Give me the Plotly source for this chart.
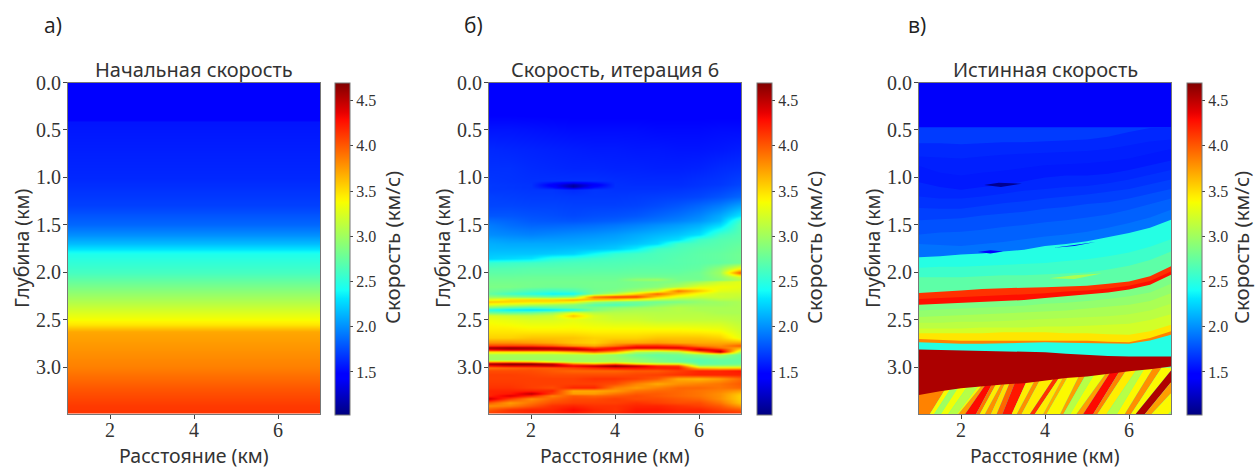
import plotly.graph_objects as go
from plotly.colors import sample_colorscale

VMIN, VMAX = 1.03, 4.70
BOTTOM = 3.49
PANEL_TITLES = ["Начальная скорость", "Скорость, итерация 6", "Истинная скорость"]
PANEL_LETTERS = ["а)", "б)", "в)"]
X_LABEL = "Расстояние (км)"
Y_LABEL = "Глубина (км)"
CB_LABEL = "Скорость (км/с)"
X_TICKS = [2, 4, 6]
Y_TICKS = [0.0, 0.5, 1.0, 1.5, 2.0, 2.5, 3.0]
CB_TICKS = [1.5, 2.0, 2.5, 3.0, 3.5, 4.0, 4.5]

JET = [[0, "rgb(0,0,128)"], [0.11, "rgb(0,0,255)"], [0.125, "rgb(0,0,255)"],
       [0.34, "rgb(0,219,255)"], [0.35, "rgb(0,229,255)"], [0.375, "rgb(20,255,247)"],
       [0.64, "rgb(247,255,0)"], [0.65, "rgb(255,245,0)"], [0.66, "rgb(255,237,0)"],
       [0.89, "rgb(255,10,0)"], [0.91, "rgb(232,0,0)"], [1, "rgb(128,0,0)"]]

# Panel a: initial velocity, one depth profile
INIT_X = [1, 7]
INIT_DEPTH = [0.0, 0.39, 0.41, 1.0, 1.3, 1.5, 1.6, 1.7, 1.76, 1.8, 2.0, 2.3, 2.5, 2.55,
              2.62, 3.0, 3.2, 3.4, 3.49]
INIT_V = [1.45, 1.45, 1.56, 1.63, 1.72, 1.86, 2.00, 2.17, 2.33, 2.45, 2.62, 3.06, 3.38,
          3.48, 3.71, 3.86, 4.00, 4.12, 4.14]

# Panel b: velocity at iteration 6, depth rows against 13 stations
STATIONS = [1, 1.5, 2, 2.5, 3, 3.5, 4, 4.5, 5, 5.5, 6, 6.5, 7]
ITER_DEPTH = [0.00, 0.30, 0.50, 0.70, 0.90, 1.03, 1.07, 1.10, 1.13, 1.20, 1.30, 1.40, 1.45,
              1.50, 1.60, 1.65, 1.70, 1.75, 1.80, 1.85, 1.90, 1.96, 2.00, 2.04, 2.07, 2.10,
              2.15, 2.19, 2.22, 2.25, 2.28, 2.31, 2.34, 2.37, 2.39, 2.42, 2.45, 2.50, 2.60,
              2.68, 2.74, 2.77, 2.79, 2.81, 2.83, 2.86, 2.92, 2.94, 2.96, 2.98, 3.00, 3.03,
              3.07, 3.12, 3.17, 3.21, 3.24, 3.27, 3.30, 3.33, 3.37, 3.40, 3.44, 3.49]
ITER_V = [
    [1.44, 1.44, 1.44, 1.44, 1.44, 1.44, 1.44, 1.44, 1.44, 1.44, 1.44, 1.44, 1.44],
    [1.47, 1.47, 1.47, 1.47, 1.47, 1.47, 1.47, 1.47, 1.47, 1.47, 1.47, 1.47, 1.47],
    [1.56, 1.56, 1.55, 1.54, 1.53, 1.53, 1.53, 1.53, 1.52, 1.52, 1.52, 1.53, 1.53],
    [1.63, 1.62, 1.61, 1.60, 1.59, 1.58, 1.58, 1.57, 1.57, 1.56, 1.56, 1.57, 1.59],
    [1.66, 1.66, 1.64, 1.63, 1.62, 1.62, 1.61, 1.61, 1.60, 1.60, 1.61, 1.64, 1.66],
    [1.68, 1.67, 1.66, 1.66, 1.66, 1.66, 1.65, 1.64, 1.64, 1.64, 1.66, 1.68, 1.72],
    [1.69, 1.68, 1.67, 1.45, 1.15, 1.42, 1.66, 1.65, 1.65, 1.65, 1.67, 1.69, 1.74],
    [1.69, 1.68, 1.67, 1.50, 1.12, 1.50, 1.66, 1.66, 1.66, 1.66, 1.68, 1.71, 1.76],
    [1.69, 1.69, 1.68, 1.68, 1.64, 1.68, 1.67, 1.67, 1.67, 1.68, 1.70, 1.73, 1.79],
    [1.72, 1.71, 1.70, 1.70, 1.69, 1.69, 1.69, 1.70, 1.71, 1.72, 1.74, 1.79, 1.86],
    [1.74, 1.74, 1.73, 1.73, 1.72, 1.72, 1.72, 1.73, 1.76, 1.80, 1.86, 1.94, 2.08],
    [1.80, 1.80, 1.78, 1.77, 1.75, 1.77, 1.78, 1.80, 1.85, 1.90, 1.97, 2.10, 2.32],
    [1.88, 1.85, 1.81, 1.80, 1.79, 1.81, 1.83, 1.87, 1.91, 1.96, 2.03, 2.16, 2.60],
    [1.93, 1.88, 1.85, 1.85, 1.86, 1.88, 1.91, 1.95, 2.00, 2.05, 2.12, 2.27, 2.68],
    [2.00, 1.98, 1.96, 1.98, 2.00, 2.02, 2.05, 2.10, 2.15, 2.20, 2.30, 2.60, 2.70],
    [2.08, 2.05, 2.04, 2.05, 2.06, 2.08, 2.10, 2.15, 2.22, 2.30, 2.60, 2.68, 2.72],
    [2.12, 2.10, 2.10, 2.10, 2.10, 2.12, 2.15, 2.20, 2.28, 2.60, 2.65, 2.70, 2.75],
    [2.15, 2.15, 2.15, 2.15, 2.17, 2.18, 2.22, 2.35, 2.60, 2.65, 2.70, 2.72, 2.78],
    [2.20, 2.20, 2.20, 2.22, 2.25, 2.40, 2.55, 2.60, 2.65, 2.68, 2.72, 2.75, 2.80],
    [2.25, 2.28, 2.32, 2.50, 2.55, 2.60, 2.62, 2.64, 2.66, 2.70, 2.72, 2.75, 2.80],
    [2.55, 2.58, 2.60, 2.62, 2.64, 2.65, 2.66, 2.67, 2.68, 2.70, 2.72, 2.74, 2.80],
    [2.68, 2.68, 2.70, 2.70, 2.70, 2.70, 2.70, 2.72, 2.72, 2.72, 2.75, 2.95, 3.40],
    [2.72, 2.72, 2.73, 2.73, 2.73, 2.74, 2.74, 2.75, 2.75, 2.75, 2.80, 3.00, 4.05],
    [2.77, 2.77, 2.78, 2.78, 2.78, 2.78, 2.78, 2.80, 2.80, 2.80, 2.80, 2.95, 3.25],
    [2.80, 2.80, 2.80, 2.80, 2.80, 2.80, 2.80, 2.95, 3.00, 2.82, 2.82, 2.90, 3.10],
    [2.82, 2.82, 2.82, 2.82, 2.82, 2.82, 2.82, 2.84, 2.86, 2.88, 3.00, 3.20, 3.30],
    [2.85, 2.85, 2.82, 2.80, 2.80, 2.82, 2.82, 2.85, 2.90, 3.05, 3.30, 3.35, 3.30],
    [2.80, 2.75, 2.65, 2.60, 2.65, 2.80, 2.85, 3.00, 3.20, 3.90, 3.60, 3.30, 3.25],
    [2.75, 2.60, 2.50, 2.38, 2.40, 2.85, 3.10, 3.50, 3.95, 3.60, 3.35, 3.20, 3.20],
    [2.95, 2.90, 2.85, 2.80, 2.90, 3.90, 4.10, 4.10, 3.60, 3.30, 3.20, 3.20, 3.15],
    [3.30, 3.50, 3.55, 3.55, 3.70, 3.60, 3.50, 3.30, 3.10, 3.00, 3.00, 3.10, 3.10],
    [3.60, 3.55, 3.50, 3.50, 3.40, 3.00, 2.85, 2.80, 2.80, 2.85, 2.95, 3.00, 3.05],
    [3.30, 3.20, 3.10, 3.00, 2.90, 2.70, 2.65, 2.75, 2.90, 3.00, 3.00, 3.00, 3.05],
    [2.85, 2.70, 2.60, 2.70, 2.80, 2.85, 2.95, 3.00, 3.05, 3.10, 3.05, 3.05, 3.05],
    [2.45, 2.35, 2.30, 2.35, 2.45, 2.85, 3.00, 3.05, 3.05, 3.10, 3.05, 3.05, 3.05],
    [2.80, 2.75, 2.80, 2.95, 3.30, 3.10, 3.10, 3.10, 3.10, 3.10, 3.10, 3.05, 3.05],
    [3.25, 3.20, 3.15, 3.20, 3.60, 3.25, 3.15, 3.15, 3.12, 3.12, 3.12, 3.10, 3.08],
    [3.35, 3.30, 3.25, 3.25, 3.30, 3.25, 3.20, 3.20, 3.15, 3.15, 3.15, 3.15, 3.10],
    [3.45, 3.45, 3.42, 3.42, 3.42, 3.40, 3.40, 3.40, 3.40, 3.40, 3.38, 3.35, 3.20],
    [3.55, 3.55, 3.60, 3.60, 3.60, 3.55, 3.55, 3.55, 3.60, 3.60, 3.60, 3.55, 3.30],
    [3.80, 3.80, 3.75, 3.70, 3.60, 3.55, 3.70, 3.70, 3.75, 3.70, 3.70, 3.70, 3.70],
    [4.10, 4.10, 4.10, 4.00, 3.80, 3.70, 3.90, 4.20, 4.20, 4.10, 3.85, 3.80, 4.00],
    [4.60, 4.65, 4.60, 4.55, 4.40, 4.10, 4.30, 4.40, 4.40, 4.40, 4.20, 3.90, 3.70],
    [4.30, 4.40, 4.40, 4.40, 4.50, 4.40, 4.20, 3.70, 3.70, 3.90, 4.50, 4.30, 3.40],
    [3.50, 3.50, 3.50, 3.50, 3.70, 4.00, 3.70, 3.10, 3.00, 3.10, 3.80, 4.55, 3.00],
    [3.05, 3.05, 3.05, 3.05, 3.05, 3.05, 2.95, 2.80, 2.75, 2.80, 2.90, 3.00, 2.75],
    [3.00, 3.00, 3.00, 3.00, 3.00, 3.00, 3.00, 2.95, 2.85, 2.75, 2.70, 2.75, 2.75],
    [3.70, 3.70, 3.60, 3.30, 3.10, 3.05, 3.10, 3.00, 2.90, 2.80, 2.70, 2.75, 2.75],
    [4.60, 4.70, 4.70, 4.50, 3.90, 3.70, 3.90, 3.50, 3.30, 3.30, 2.75, 2.75, 2.80],
    [4.30, 4.40, 4.40, 4.50, 4.35, 4.50, 4.70, 4.50, 4.20, 4.10, 3.00, 3.00, 3.00],
    [3.90, 3.95, 4.00, 4.00, 4.10, 4.20, 4.30, 4.30, 4.25, 4.25, 3.60, 3.50, 3.50],
    [4.05, 4.05, 4.05, 4.00, 3.95, 3.95, 3.95, 4.00, 4.00, 4.10, 4.20, 4.20, 4.25],
    [4.10, 4.10, 4.08, 4.05, 4.05, 4.05, 4.05, 4.08, 4.10, 4.15, 4.20, 4.20, 4.20],
    [4.10, 4.10, 4.10, 4.10, 4.10, 4.15, 4.15, 4.10, 4.00, 3.70, 3.65, 3.75, 3.95],
    [4.12, 4.12, 4.10, 4.10, 4.10, 4.10, 4.05, 3.85, 3.70, 3.80, 3.85, 3.90, 4.00],
    [4.15, 4.15, 4.10, 4.05, 4.20, 4.20, 3.85, 3.75, 3.85, 3.95, 3.95, 3.90, 3.95],
    [4.20, 4.20, 4.20, 4.20, 3.70, 3.70, 3.75, 3.90, 3.95, 3.95, 3.90, 3.85, 3.75],
    [4.20, 4.25, 4.50, 4.10, 3.75, 3.75, 3.90, 4.00, 4.00, 3.95, 3.90, 3.80, 3.60],
    [4.20, 4.40, 4.20, 3.85, 4.00, 3.95, 4.00, 4.05, 4.00, 3.95, 3.90, 3.80, 3.55],
    [4.45, 4.10, 3.80, 3.95, 4.05, 4.05, 4.10, 4.05, 4.05, 4.00, 3.95, 3.80, 3.55],
    [4.00, 3.75, 3.90, 4.05, 4.10, 4.10, 4.10, 4.15, 4.10, 4.05, 4.05, 3.90, 3.60],
    [3.80, 3.85, 4.00, 4.15, 4.20, 4.15, 4.15, 4.20, 4.20, 4.15, 4.10, 4.00, 3.75],
    [4.00, 4.15, 4.20, 4.20, 4.30, 4.20, 4.15, 4.25, 4.25, 4.20, 4.20, 4.10, 4.00],
    [4.15, 4.15, 4.20, 4.20, 4.20, 4.15, 4.20, 4.25, 4.20, 4.20, 4.20, 4.20, 4.20],
]

# Panel c: true model, layer velocity and the depth of its top at each station
TRUE_BACKGROUND = 1.42
TRUE_LAYER_V = [1.70, 1.63, 1.60, 1.58, 1.63, 1.67, 1.72, 1.78, 1.84, 1.90,
                2.48, 2.58, 2.72, 4.15, 4.28, 2.85, 2.95, 3.05, 3.12, 3.22, 3.48, 3.85, 2.48, 2.80]
TRUE_LAYER_TOPS = [
    [0.47, 0.47, 0.47, 0.47, 0.47, 0.47, 0.47, 0.47, 0.47, 0.47, 0.47, 0.47, 0.47],
    [0.64, 0.64, 0.65, 0.64, 0.63, 0.63, 0.62, 0.61, 0.60, 0.57, 0.52, 0.48, 0.47],
    [0.78, 0.79, 0.80, 0.78, 0.76, 0.75, 0.74, 0.73, 0.72, 0.70, 0.66, 0.62, 0.60],
    [0.88, 0.95, 0.98, 0.95, 0.93, 0.90, 0.87, 0.86, 0.85, 0.83, 0.80, 0.75, 0.70],
    [1.05, 1.10, 1.13, 1.10, 1.08, 1.04, 1.00, 0.98, 0.98, 0.96, 0.92, 0.87, 0.82],
    [1.20, 1.22, 1.22, 1.20, 1.17, 1.14, 1.12, 1.10, 1.09, 1.06, 1.02, 0.97, 0.92],
    [1.32, 1.33, 1.33, 1.30, 1.27, 1.25, 1.22, 1.20, 1.18, 1.15, 1.12, 1.07, 1.02],
    [1.45, 1.44, 1.43, 1.40, 1.38, 1.36, 1.33, 1.31, 1.28, 1.26, 1.22, 1.17, 1.12],
    [1.60, 1.58, 1.57, 1.55, 1.52, 1.50, 1.47, 1.45, 1.42, 1.39, 1.34, 1.28, 1.22],
    [1.70, 1.71, 1.72, 1.70, 1.68, 1.65, 1.62, 1.60, 1.57, 1.53, 1.48, 1.42, 1.34],
    [1.84, 1.83, 1.81, 1.80, 1.78, 1.76, 1.72, 1.70, 1.67, 1.63, 1.585, 1.53, 1.445],
    [1.95, 1.94, 1.94, 1.93, 1.92, 1.91, 1.90, 1.88, 1.86, 1.83, 1.79, 1.73, 1.65],
    [2.05, 2.05, 2.05, 2.04, 2.03, 2.03, 2.02, 2.01, 2.00, 1.97, 1.93, 1.87, 1.78],
    [2.217, 2.20, 2.19, 2.175, 2.165, 2.16, 2.155, 2.15, 2.14, 2.12, 2.095, 2.04, 1.935],
    [2.28, 2.27, 2.26, 2.25, 2.24, 2.23, 2.22, 2.20, 2.19, 2.17, 2.14, 2.09, 1.99],
    [2.34, 2.33, 2.32, 2.31, 2.305, 2.29, 2.27, 2.25, 2.235, 2.21, 2.18, 2.13, 2.025],
    [2.40, 2.39, 2.38, 2.37, 2.36, 2.35, 2.33, 2.32, 2.30, 2.28, 2.25, 2.21, 2.12],
    [2.47, 2.46, 2.45, 2.44, 2.43, 2.42, 2.41, 2.40, 2.38, 2.36, 2.34, 2.30, 2.22],
    [2.53, 2.53, 2.52, 2.52, 2.51, 2.50, 2.49, 2.48, 2.47, 2.46, 2.44, 2.40, 2.33],
    [2.59, 2.59, 2.59, 2.58, 2.58, 2.58, 2.57, 2.57, 2.56, 2.55, 2.54, 2.50, 2.44],
    [2.64, 2.64, 2.64, 2.64, 2.63, 2.63, 2.63, 2.64, 2.64, 2.65, 2.655, 2.62, 2.55],
    [2.70, 2.71, 2.72, 2.72, 2.72, 2.72, 2.72, 2.72, 2.72, 2.73, 2.735, 2.69, 2.62],
    [2.735, 2.745, 2.75, 2.75, 2.745, 2.74, 2.735, 2.74, 2.745, 2.75, 2.75, 2.715, 2.655],
    [3.50, 3.50, 3.50, 3.50, 3.50, 3.50, 3.50, 3.50, 3.50, 3.50, 3.50, 3.50, 3.50],
]
# Dark red massive: top and base at each station
SALT_V = 4.56
SALT_TOP = [2.81, 2.815, 2.82, 2.825, 2.83, 2.835, 2.84, 2.855, 2.87, 2.88, 2.885, 2.885, 2.885]
SALT_BASE = [3.29, 3.25, 3.22, 3.20, 3.18, 3.165, 3.14, 3.11, 3.095, 3.07, 3.04, 3.02, 2.99]

# Slanted beds under the massive: edge position at the floor and at 3.0 km depth
BED_TOP_DEPTH = 3.0
BED_V = [3.85, 3.40, 3.00, 3.35, 3.10, 3.40, 3.75, 4.30, 3.90, 3.45, 3.80, 3.50, 3.95, 4.25,
         3.45, 3.80, 3.45, 4.15, 3.45, 3.70, 3.40, 3.75, 3.10, 3.35, 3.75, 4.30, 3.85, 3.45,
         3.10, 3.40, 3.80, 3.40, 4.55, 3.75, 3.40, 3.05]
BED_X_FLOOR = [0.11, 1.26, 1.365, 1.52, 1.70, 1.90, 1.94, 2.10, 2.36, 2.45, 2.57, 2.715, 2.85,
               2.985, 3.21, 3.33, 3.445, 3.64, 3.76, 3.96, 4.04, 4.36, 4.44, 4.60, 4.75, 4.91,
               5.15, 5.25, 5.47, 5.71, 5.90, 6.05, 6.16, 6.38, 6.54, 6.94, 7.40]
BED_X_TOP = [1.135, 1.945, 2.08, 2.24, 2.47, 2.75, 2.85, 2.87, 2.95, 3.05, 3.17, 3.22, 3.31,
             3.43, 3.71, 3.92, 4.04, 4.38, 4.50, 4.56, 4.67, 4.91, 5.07, 5.27, 5.55, 5.63,
             5.83, 5.98, 6.22, 6.38, 6.58, 6.78, 7.06, 7.29, 7.57, 8.00, 8.40]

# Small lenses: velocity, x outline, depth outline
LENS_V = [1.08, 1.45, 1.50, 3.05]
LENS_X = [[2.55, 2.9, 3.45, 2.95], [2.4, 2.7, 3.0, 2.7], [3.7, 4.2, 4.7, 5.2, 4.7], [4.1, 4.7, 5.35, 4.7]]
LENS_DEPTH = [[1.08, 1.055, 1.065, 1.10], [1.785, 1.765, 1.78, 1.80], [1.77, 1.74, 1.72, 1.68, 1.71], [2.06, 2.03, 2.01, 2.07]]

W, H = 1255, 468
PLOT_LEFT = [68, 489, 919]
PLOT_WIDTH = 252
PLOT_TOP, PLOT_BOTTOM = 82.5, 414
BAR_LEFT = [335, 757, 1187]
BAR_WIDTH = 15
CB_TITLE_X = [392, 814, 1241]
YLABEL_X = [21, 442, 872]
LETTER_X = [53, 473, 917]
SERIF = "Liberation Serif"
SANS = "Noto Sans"
TEXT = "#333333"


def color(v):
    return sample_colorscale(JET, (v - VMIN) / (VMAX - VMIN))[0]


def colorbar(i):
    return dict(x=BAR_LEFT[i] / W, xanchor="left", xpad=0, y=1 - PLOT_TOP / H, yanchor="top", ypad=0,
                len=(PLOT_BOTTOM - PLOT_TOP) / H, lenmode="fraction", thickness=BAR_WIDTH, thicknessmode="pixels",
                tickvals=CB_TICKS, tickformat=".1f", ticks="outside", ticklen=3, tickcolor="#444",
                tickfont=dict(family=SERIF, size=16, color=TEXT), outlinecolor="#777", outlinewidth=1)


fig = go.Figure()
fig.add_trace(go.Heatmap(x=INIT_X, y=INIT_DEPTH, z=[[v, v] for v in INIT_V], colorscale=JET, zmin=VMIN, zmax=VMAX,
                         zsmooth="best", colorbar=colorbar(0), xaxis="x", yaxis="y"))
fig.add_trace(go.Heatmap(x=STATIONS, y=ITER_DEPTH, z=ITER_V, colorscale=JET, zmin=VMIN, zmax=VMAX,
                         zsmooth="best", colorbar=colorbar(1), xaxis="x2", yaxis="y2"))
fig.add_trace(go.Heatmap(x=INIT_X, y=[0, BOTTOM], z=[[TRUE_BACKGROUND] * 2] * 2, colorscale=JET, zmin=VMIN, zmax=VMAX,
                         colorbar=colorbar(2), xaxis="x3", yaxis="y3"))


def poly(xs, ys, v):
    fig.add_trace(go.Scatter(x=xs, y=ys, mode="lines", fill="toself", fillcolor=color(v), line=dict(width=0),
                             hoverinfo="skip", showlegend=False, xaxis="x3", yaxis="y3"))


for v, tops in zip(TRUE_LAYER_V, TRUE_LAYER_TOPS):
    poly(STATIONS + [7, 1], tops + [BOTTOM, BOTTOM], v)
for i, v in enumerate(BED_V):
    poly([BED_X_FLOOR[i], BED_X_FLOOR[i + 1], BED_X_TOP[i + 1], BED_X_TOP[i]],
         [BOTTOM, BOTTOM, BED_TOP_DEPTH, BED_TOP_DEPTH], v)
poly(STATIONS + STATIONS[::-1], SALT_TOP + SALT_BASE[::-1], SALT_V)
for v, lx, ld in zip(LENS_V, LENS_X, LENS_DEPTH):
    poly(lx, ld, v)

layout = dict(width=W, height=H, margin=dict(l=0, r=0, t=0, b=0, autoexpand=False), paper_bgcolor="white",
              plot_bgcolor="white", showlegend=False)
annotations = []
for i in range(3):
    s = "" if i == 0 else str(i + 1)
    layout["xaxis" + s] = dict(domain=[PLOT_LEFT[i] / W, (PLOT_LEFT[i] + PLOT_WIDTH) / W], range=[1, 7],
                               anchor="y" + s, tickvals=X_TICKS, ticks="outside", ticklen=4, tickcolor="#444",
                               ticklabelstandoff=-6,
                               showgrid=False, zeroline=False, mirror=True, showline=True, linecolor="#777", linewidth=1,
                               tickfont=dict(family=SERIF, size=20, color=TEXT))
    layout["yaxis" + s] = dict(domain=[1 - PLOT_BOTTOM / H, 1 - PLOT_TOP / H], range=[BOTTOM, 0],
                               anchor="x" + s, tickvals=Y_TICKS, tickformat=".1f", ticks="outside", ticklen=4, tickcolor="#444",
                               ticklabelstandoff=-2,
                               showgrid=False, zeroline=False, mirror=True, showline=True, linecolor="#777", linewidth=1,
                               tickfont=dict(family=SERIF, size=20, color=TEXT))
    cx = PLOT_LEFT[i] + PLOT_WIDTH / 2
    common = dict(xref="paper", yref="paper", showarrow=False, xanchor="center", yanchor="middle")
    annotations += [
        dict(text=PANEL_TITLES[i], x=cx / W, y=1 - 69 / H, font=dict(family=SANS, size=20, color=TEXT), **common),
        dict(text=X_LABEL, x=cx / W, y=1 - 455 / H, font=dict(family=SANS, size=19.5, color=TEXT), **common),
        dict(text=PANEL_LETTERS[i], x=LETTER_X[i] / W, y=1 - 25 / H, font=dict(family="Open Sans", size=21, color="#222222"), **common),
        dict(text=Y_LABEL, x=YLABEL_X[i] / W, y=1 - 248 / H, textangle=-90, font=dict(family=SANS, size=19.5, color=TEXT), **common),
        dict(text=CB_LABEL, x=CB_TITLE_X[i] / W, y=1 - 248 / H, textangle=-90, font=dict(family=SANS, size=20.5, color=TEXT), **common),
    ]
layout["annotations"] = annotations
fig.update_layout(**layout)
fig.write_html("out.html", config=dict(displayModeBar=False),
               post_script="document.body.style.margin='0';document.body.style.overflow='hidden';")
